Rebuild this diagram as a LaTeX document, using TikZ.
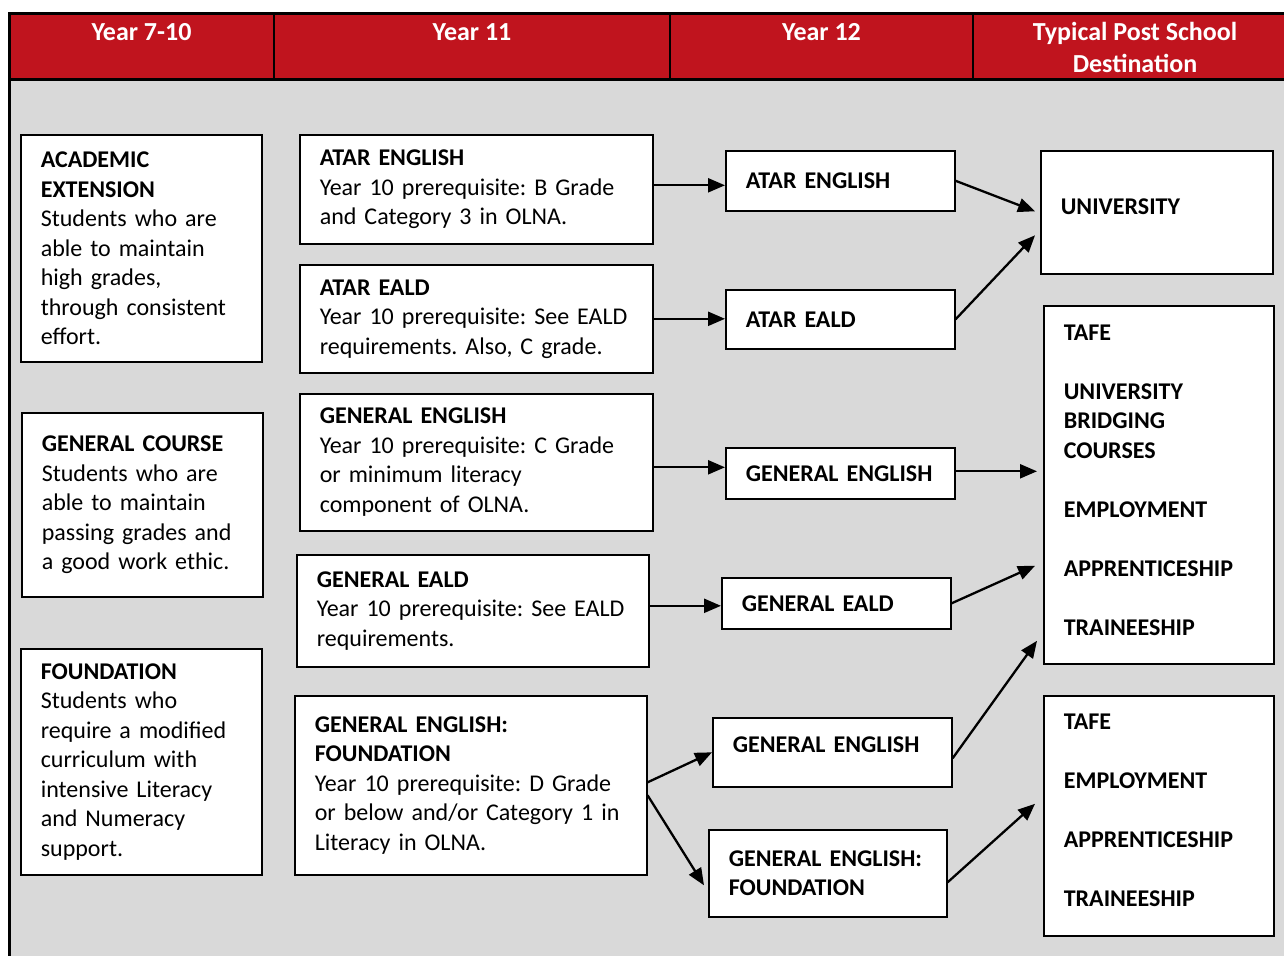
\documentclass[tikz,border=0pt]{standalone}
\usepackage{fontspec}
\setmainfont{Carlito}
\usetikzlibrary{arrows.meta}
\definecolor{headred}{RGB}{192,20,30}
\definecolor{bggray}{RGB}{217,217,217}
\frenchspacing

\begin{document}
\begin{tikzpicture}[x=1pt,y=-1pt]
\tikzset{BoxStyle/.style={draw, line width=1.6pt, fill=white, anchor=north west,
    inner xsep=20pt, inner ysep=0pt, align=left,
    font=\fontsize{24}{29.5}\selectfont},
  DestStyle/.style={BoxStyle, font=\fontsize{24}{29.5}\selectfont\bfseries},
  HeadStyle/.style={anchor=base, align=center, text=white, inner sep=0pt,
    font=\fontsize{26}{32}\selectfont\bfseries},
  EdgeStyle/.style={line width=2.3pt, -{Triangle[length=17pt,width=14pt]}}}
\clip (0,0) rectangle (1284,955);
% frame and header band
\fill[headred] (9,14) rectangle (1300,80);
\fill[bggray] (9,80) rectangle (1300,960);
\draw[line width=3pt] (9,962) -- (9,14) -- (1300,14);
\draw[line width=3pt] (9,80) -- (1300,80);
\foreach \x in {274,670,973} \draw[line width=2pt] (\x,14) -- (\x,80);
\node[HeadStyle] (h1) at (141.5,40.5) {Year 7-10};
\node[HeadStyle] (h2) at (472,40.5) {Year 11};
\node[HeadStyle] (h3) at (821.5,40.5) {Year 12};
\node[HeadStyle] (h4) at (1135,72.5) {Typical Post School\\Destination};
% Year 7-10
\node[BoxStyle, minimum width=241pt, minimum height=227pt, text width=201pt] (acad) at (20,134)
  {\textbf{ACADEMIC}\\\textbf{EXTENSION}\\Students who are\\able to maintain\\high grades,\\through consistent\\effort.};
\node[BoxStyle, minimum width=241pt, minimum height=184pt, text width=201pt] (gen) at (21,412)
  {\textbf{GENERAL COURSE}\\Students who are\\able to maintain\\passing grades and\\a good work ethic.};
\node[BoxStyle, minimum width=241pt, minimum height=226pt, text width=201pt] (found) at (20,648)
  {\textbf{FOUNDATION}\\Students who\\require a modified\\curriculum with\\intensive Literacy\\and Numeracy\\support.};
% Year 11
\node[BoxStyle, minimum width=353pt, minimum height=109pt, text width=313pt] (y11a) at (299,134)
  {\textbf{ATAR ENGLISH}\\Year 10 prerequisite: B Grade\\and Category 3 in OLNA.};
\node[BoxStyle, minimum width=353pt, minimum height=108pt, text width=313pt] (y11ae) at (299,264)
  {\textbf{ATAR EALD}\\Year 10 prerequisite: See EALD\\requirements. Also, C grade.};
\node[BoxStyle, minimum width=353pt, minimum height=137pt, text width=313pt] (y11g) at (299,393)
  {\textbf{GENERAL ENGLISH}\\Year 10 prerequisite: C Grade\\or minimum literacy\\component of OLNA.};
\node[BoxStyle, minimum width=352pt, minimum height=112pt, text width=312pt] (y11e) at (296,554)
  {\textbf{GENERAL EALD}\\Year 10 prerequisite: See EALD\\requirements.};
\node[BoxStyle, minimum width=352pt, minimum height=179pt, text width=312pt] (y11f) at (294,695)
  {\textbf{GENERAL ENGLISH:}\\\textbf{FOUNDATION}\\Year 10 prerequisite: D Grade\\or below and/or Category 1 in\\Literacy in OLNA.};
% Year 12
\node[DestStyle, minimum width=229pt, minimum height=60pt, text width=189pt] (y12a) at (725,150) {ATAR ENGLISH};
\node[DestStyle, minimum width=229pt, minimum height=59pt, text width=189pt] (y12ae) at (725,289) {ATAR EALD};
\node[DestStyle, minimum width=229pt, minimum height=51pt, text width=189pt] (y12g) at (725,447) {GENERAL ENGLISH};
\node[DestStyle, minimum width=229pt, minimum height=51pt, text width=189pt] (y12e) at (721,577) {GENERAL EALD};
\node[DestStyle, minimum width=239pt, minimum height=69pt, text width=199pt] (ge2) at (712,717) {GENERAL ENGLISH\\[-13.5pt]\mbox{}};
\node[DestStyle, minimum width=238pt, minimum height=87pt, text width=198pt] (gef) at (708,829) {GENERAL ENGLISH:\\FOUNDATION};
% destinations
\node[DestStyle, minimum width=232pt, minimum height=123pt, text width=192pt] (uni) at (1040,150) {UNIVERSITY\\[-17.5pt]\mbox{}};
\node[DestStyle, minimum width=230pt, minimum height=358pt, text width=190pt] (tafe) at (1043,305)
  {TAFE\\[29.5pt]UNIVERSITY\\BRIDGING\\COURSES\\[29.5pt]EMPLOYMENT\\[29.5pt]APPRENTICESHIP\\[29.5pt]TRAINEESHIP\\[-19.5pt]\mbox{}};
\node[DestStyle, minimum width=230pt, minimum height=240pt, text width=190pt] (work) at (1043,695)
  {TAFE\\[29.5pt]EMPLOYMENT\\[29.5pt]APPRENTICESHIP\\[29.5pt]TRAINEESHIP\\[-17.5pt]\mbox{}};
% connectors
\draw[EdgeStyle] ([shift={(0,-4)}]y11a.east) -- ([shift={(0,-4)}]y11a.east -| y12a.west);
\draw[EdgeStyle] (y11ae.east) -- (y11ae.east -| y12ae.west);
\draw[EdgeStyle] ([shift={(0,5)}]y11g.east) -- ([shift={(0,5)}]y11g.east -| y12g.west);
\draw[EdgeStyle] ([shift={(0,-5)}]y11e.east) -- ([shift={(0,-5)}]y11e.east -| y12e.west);
\draw[EdgeStyle] ([shift={(0,-3)}]y11f.east) -- (ge2.west);
\draw[EdgeStyle] ([shift={(0,10)}]y11f.east) -- ([shift={(-4,12)}]gef.west);
\draw[EdgeStyle] (y12a.east) -- ([shift={(-5,-1)}]uni.west);
\draw[EdgeStyle] (y12ae.east) -- ([shift={(-5,23)}]uni.west);
\draw[EdgeStyle] ([shift={(0,-2)}]y12g.east) -- ([shift={(-6,-2)}]y12g.east -| tafe.west);
\draw[EdgeStyle] (y12e.east) -- ([shift={(-8,81)}]tafe.west);
\draw[EdgeStyle] ([shift={(0,6)}]ge2.east) -- ([shift={(-6,156)}]tafe.west);
\draw[EdgeStyle] ([shift={(0,9)}]gef.east) -- ([shift={(-8,-12)}]work.west);
\end{tikzpicture}
\end{document}
